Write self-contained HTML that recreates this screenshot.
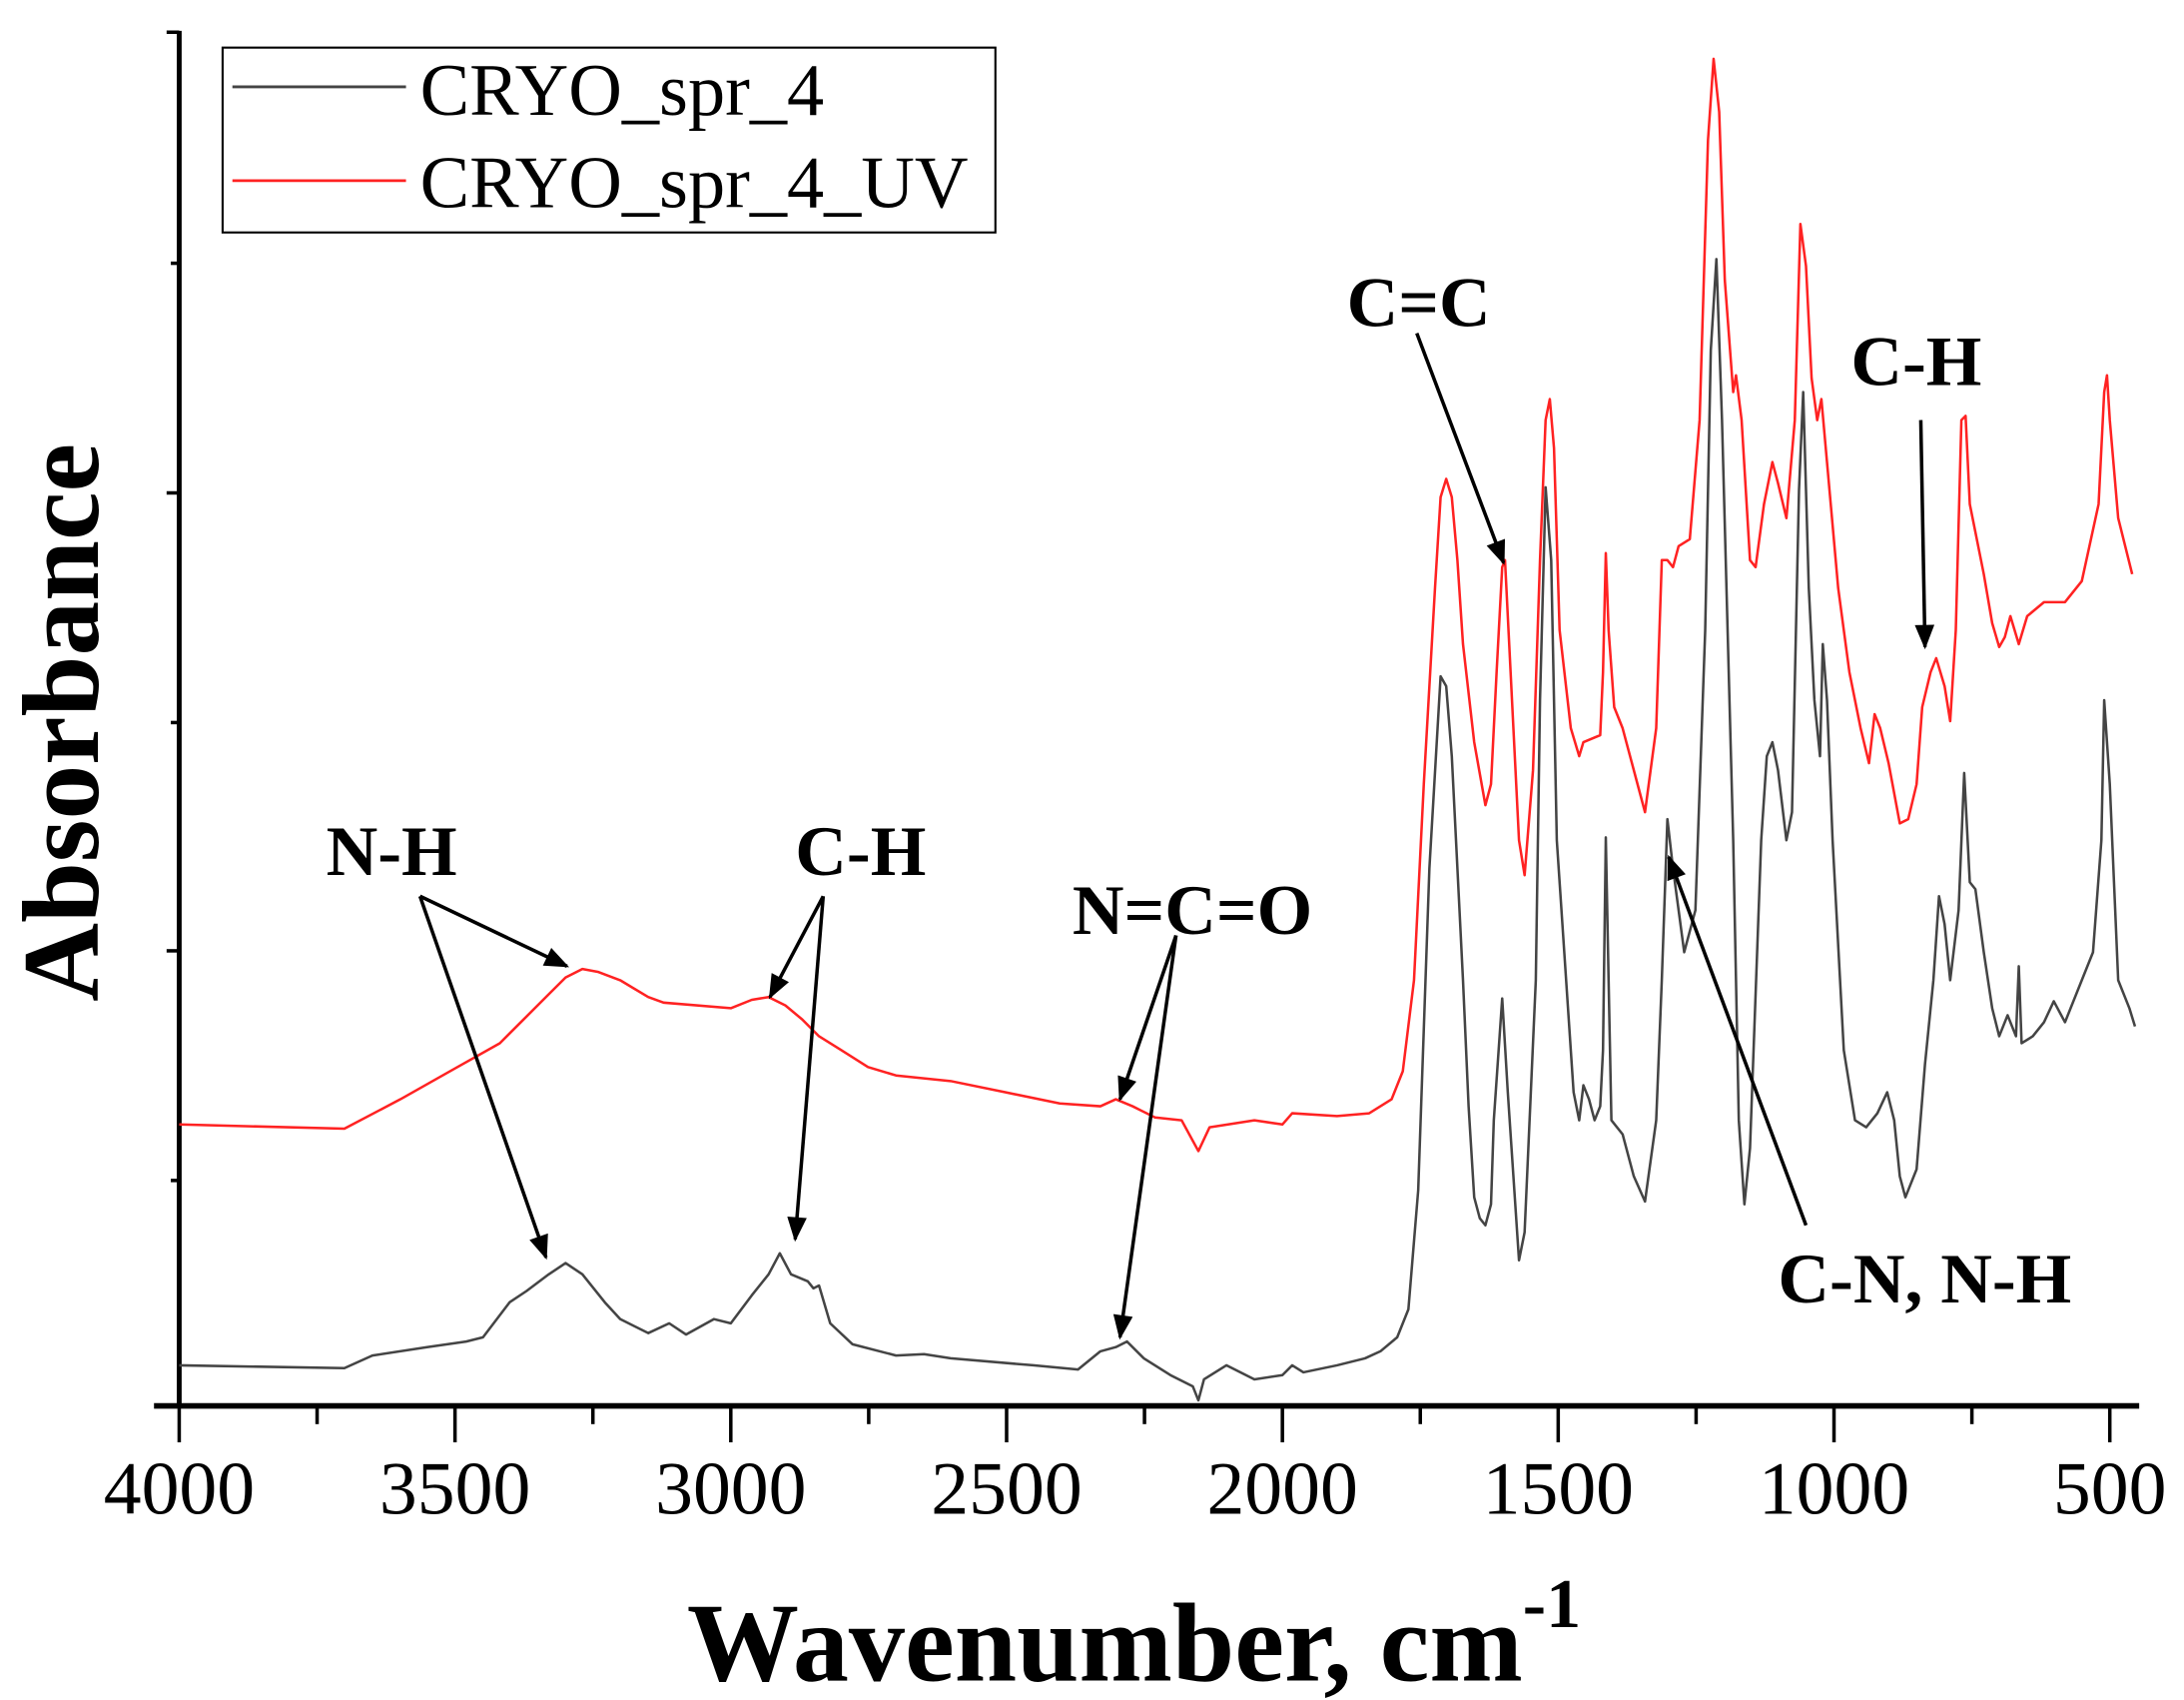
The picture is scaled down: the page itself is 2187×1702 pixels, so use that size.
<!DOCTYPE html>
<html><head><meta charset="utf-8"><style>html,body{margin:0;padding:0;background:#fff}svg{display:block}</style></head>
<body>
<svg width="2187" height="1702" viewBox="0 0 1560 1214" preserveAspectRatio="none" xmlns="http://www.w3.org/2000/svg" font-family="Liberation Serif, serif">
<defs><marker id="ah" markerWidth="10" markerHeight="8" refX="9" refY="4" orient="auto" markerUnits="userSpaceOnUse"><path d="M0,0 L10,4 L0,8 Z" fill="#000"/></marker>
<marker id="ah2" viewBox="0 0 10 8" markerWidth="18" markerHeight="14" refX="9" refY="4" orient="auto" markerUnits="userSpaceOnUse"><path d="M0,0 L10,4 L0,8 Z" fill="#000"/></marker></defs>
<!-- axes -->
<line x1="128" y1="22" x2="128" y2="1005" stroke="#000" stroke-width="3.5"/>
<line x1="110" y1="1004" x2="1528" y2="1004" stroke="#000" stroke-width="4"/>
<g stroke="#000" stroke-width="2.5">
<line x1="119" y1="23" x2="128" y2="23"/><line x1="122" y1="188" x2="128" y2="188"/><line x1="119" y1="352" x2="128" y2="352"/><line x1="122" y1="516" x2="128" y2="516"/><line x1="119" y1="679" x2="128" y2="679"/><line x1="122" y1="843" x2="128" y2="843"/>
<line x1="128" y1="1004" x2="128" y2="1030"/><line x1="226.5" y1="1004" x2="226.5" y2="1017"/><line x1="325" y1="1004" x2="325" y2="1030"/><line x1="423.5" y1="1004" x2="423.5" y2="1017"/><line x1="522" y1="1004" x2="522" y2="1030"/><line x1="620.5" y1="1004" x2="620.5" y2="1017"/><line x1="719" y1="1004" x2="719" y2="1030"/><line x1="817.5" y1="1004" x2="817.5" y2="1017"/><line x1="916" y1="1004" x2="916" y2="1030"/><line x1="1014.5" y1="1004" x2="1014.5" y2="1017"/><line x1="1113" y1="1004" x2="1113" y2="1030"/><line x1="1211.5" y1="1004" x2="1211.5" y2="1017"/><line x1="1310" y1="1004" x2="1310" y2="1030"/><line x1="1408.5" y1="1004" x2="1408.5" y2="1017"/><line x1="1507" y1="1004" x2="1507" y2="1030"/>
</g>
<g font-size="54" text-anchor="middle" fill="#000">
<text x="128" y="1081">4000</text><text x="325" y="1081">3500</text><text x="522" y="1081">3000</text><text x="719" y="1081">2500</text><text x="916" y="1081">2000</text><text x="1113" y="1081">1500</text><text x="1310" y="1081">1000</text><text x="1507" y="1081">500</text>
</g>
<text x="810" y="1200" font-size="80" font-weight="bold" text-anchor="middle">Wavenumber, cm<tspan font-size="50" dy="-38">-1</tspan></text>
<text transform="translate(70,516) rotate(-90)" font-size="78" font-weight="bold" text-anchor="middle">Absorbance</text>
<!-- legend -->
<rect x="159" y="34" width="552" height="132" fill="#fff" stroke="#000" stroke-width="1.5"/>
<line x1="166" y1="62" x2="290" y2="62" stroke="#444" stroke-width="2"/>
<line x1="166" y1="129" x2="290" y2="129" stroke="#f22" stroke-width="2"/>
<text x="300" y="82" font-size="53">CRYO_spr_4</text>
<text x="300" y="148" font-size="53">CRYO_spr_4_UV</text>
<!-- black -->
<polyline fill="none" stroke="#444" stroke-width="1.8" stroke-linejoin="round" points="128,975 246,977 266,968 305,962 333,958 345,955 364,930 376,922 392,910 404,902 416,910 432,930 443,942 463,952 478,945 490,953 510,942 522,945 537,925 549,910 557,895 565,910 577,915 581,920 585,918 593,945 609,960 640,968 660,967 679,970 738,975 770,978 786,965 797,962 805,958 817,970 836,982 852,990 856,1000 860,985 876,975 896,985 916,982 923,975 931,980 955,975 975,970 986,965 998,955 1006,935 1013,850 1021,620 1029,483 1033,490 1037,540 1045,700 1049,790 1053,855 1057,870 1061,875 1065,860 1067,800 1073,713 1077,780 1085,900 1089,880 1097,700 1100,500 1104,348 1108,400 1112,600 1120,720 1124,780 1128,800 1131,775 1135,785 1139,800 1143,790 1145,750 1147,598 1149,700 1151,800 1159,810 1167,840 1175,858 1183,800 1187,700 1191,585 1195,620 1203,680 1211,650 1218,450 1222,250 1226,185 1230,300 1238,600 1242,800 1246,860 1250,820 1258,600 1262,540 1266,530 1270,550 1276,600 1280,580 1285,350 1288,280 1292,420 1296,500 1300,540 1302,460 1305,500 1309,600 1317,750 1325,800 1333,805 1341,795 1348,780 1353,800 1357,840 1361,855 1369,835 1375,760 1381,700 1385,640 1389,660 1393,700 1399,650 1403,552 1407,630 1411,635 1417,680 1423,720 1428,740 1434,725 1440,740 1442,690 1444,745 1452,740 1460,730 1467,715 1475,730 1487,700 1495,680 1501,600 1503,500 1507,560 1513,700 1521,720 1525,733"/>
<!-- red -->
<polyline fill="none" stroke="#f22" stroke-width="1.8" stroke-linejoin="round" points="128,803 246,806 286,785 325,763 357,745 372,730 392,710 404,698 416,692 427,694 443,700 463,712 474,716 522,720 537,714 549,712 561,718 573,728 585,740 601,750 620,762 640,768 679,772 718,780 757,788 786,790 797,785 809,790 825,798 844,800 856,822 864,805 896,800 916,803 923,795 955,797 978,795 994,785 1002,765 1010,700 1017,560 1025,420 1029,355 1033,342 1037,355 1041,400 1045,460 1053,530 1061,575 1065,560 1069,480 1073,405 1075,400 1079,480 1085,600 1089,625 1095,550 1100,400 1104,300 1107,285 1110,320 1114,450 1122,520 1128,540 1131,530 1143,525 1145,480 1147,395 1149,450 1153,505 1159,520 1171,565 1175,580 1183,520 1187,400 1191,400 1195,405 1199,390 1207,385 1214,300 1220,100 1224,42 1228,80 1232,200 1238,280 1240,268 1244,300 1250,400 1254,405 1260,360 1266,330 1270,345 1276,370 1282,300 1286,160 1290,190 1294,270 1298,300 1301,285 1305,330 1313,420 1321,480 1329,520 1335,545 1339,510 1343,520 1349,545 1357,588 1363,585 1369,560 1373,505 1379,480 1383,470 1389,490 1393,515 1397,450 1401,300 1404,297 1407,360 1411,380 1417,410 1423,445 1428,462 1432,455 1436,440 1442,460 1448,440 1460,430 1475,430 1487,415 1499,360 1503,280 1505,268 1507,300 1513,370 1523,410"/>
<!-- annotations -->
<g font-size="51" font-weight="bold" fill="#000">
<text x="233" y="625">N-H</text><text x="568" y="625">C-H</text><text x="766" y="667">N=C=O</text><text x="962" y="233">C=C</text><text x="1322" y="275">C-H</text><text x="1270" y="930">C-N, N-H</text>
</g>
<g stroke="#000" stroke-width="2.5" marker-end="url(#ah2)">
<line x1="300" y1="640" x2="405" y2="690"/><line x1="300" y1="640" x2="390" y2="898"/>
<line x1="588" y1="640" x2="550" y2="712"/><line x1="588" y1="640" x2="568" y2="885"/>
<line x1="840" y1="668" x2="800" y2="785"/><line x1="840" y1="668" x2="800" y2="955"/>
<line x1="1012" y1="238" x2="1074" y2="402"/>
<line x1="1372" y1="300" x2="1375" y2="462"/>
<line x1="1290" y1="875" x2="1192" y2="612"/>
</g>
</svg>
</body></html>
